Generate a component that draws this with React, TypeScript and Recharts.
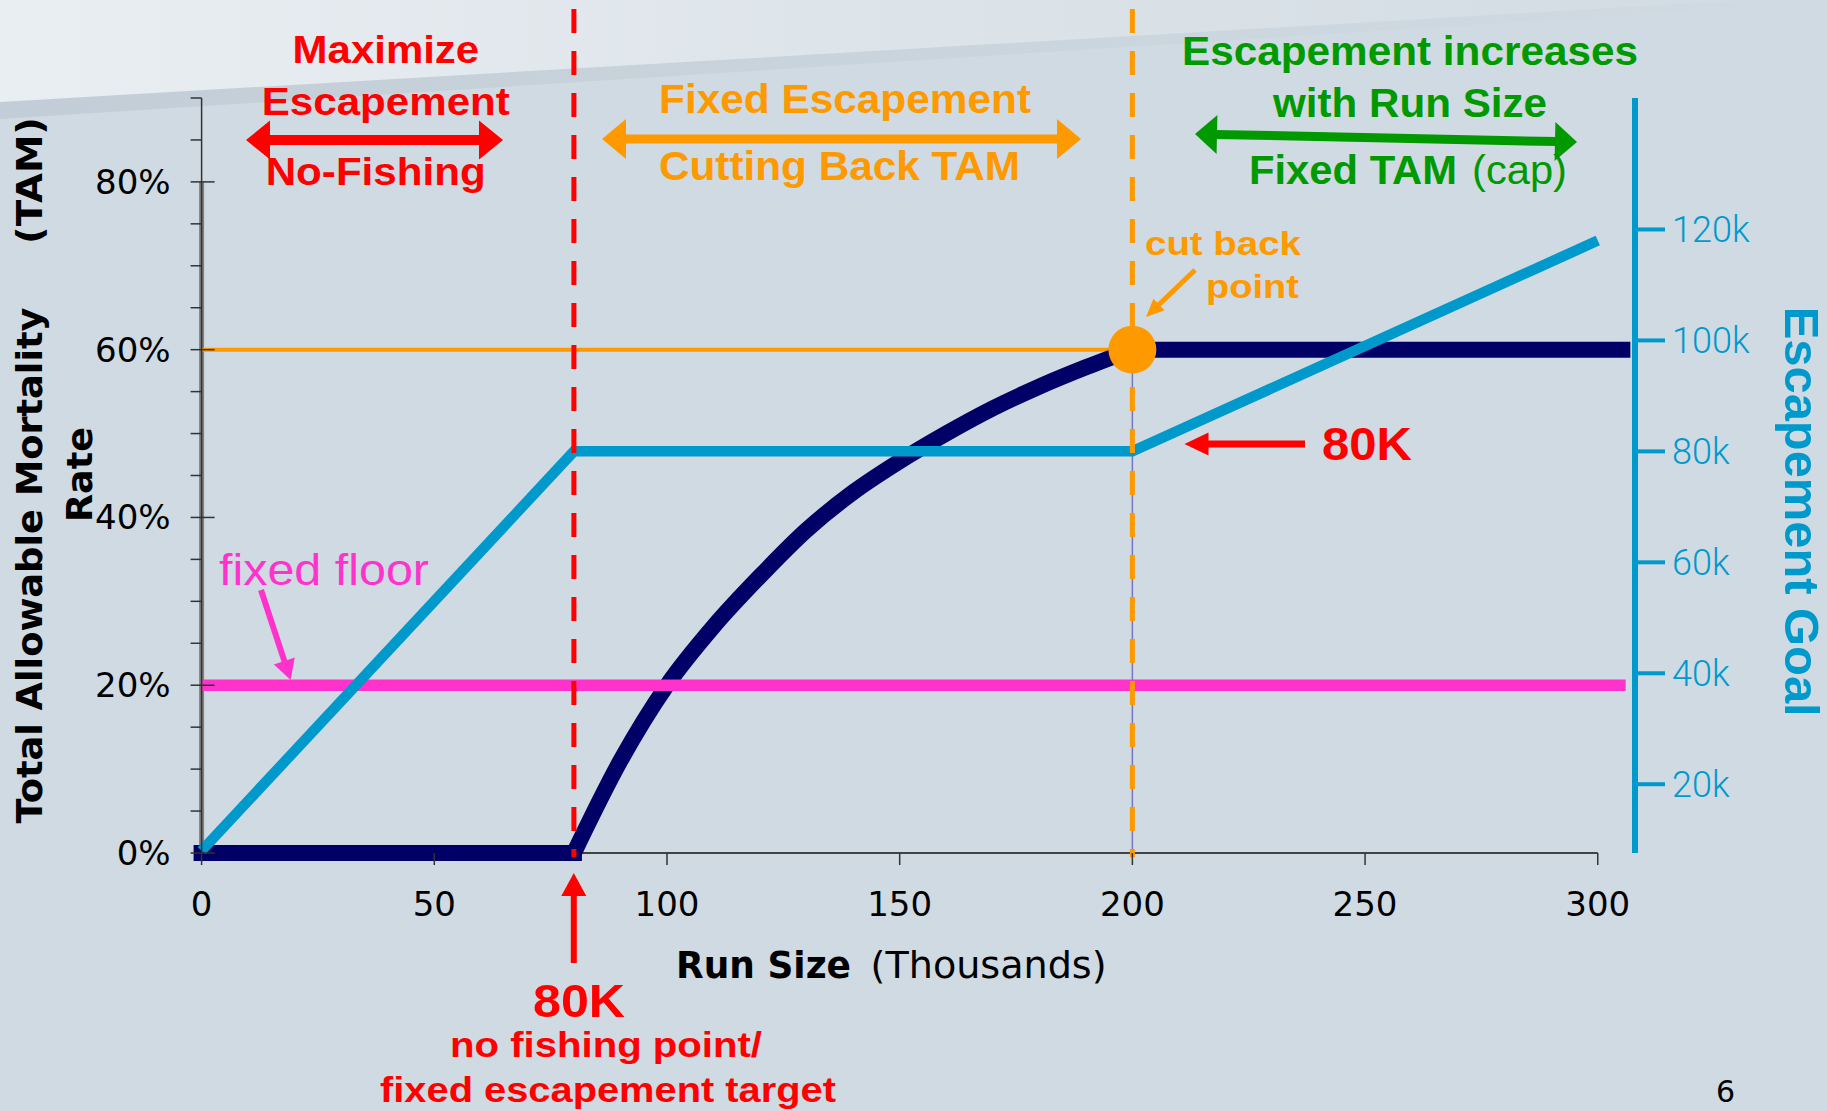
import React from "react";
import { ComposedChart, Line, XAxis, YAxis, ReferenceLine, ReferenceDot } from "recharts";

const W = 1827;
const H = 1111;

// axis ticks
const runTicks = [0, 50, 100, 150, 200, 250, 300];
const tamTicks = [0, 0.05, 0.1, 0.15, 0.2, 0.25, 0.3, 0.35, 0.4, 0.45, 0.5, 0.55, 0.6, 0.65, 0.7, 0.75, 0.8, 0.85, 0.9];
const escTicks = [20, 40, 60, 80, 100, 120];

// total allowable mortality rate (navy): flat no-fishing part, the cut-back curve, the cap
const tamFlatRun = [0, 80];
const tamFlatRate = [0, 0];
const tamCurveRun = [80, 90, 100, 110, 120, 130, 140, 150, 160, 170, 180, 190, 200];
const tamCurveRate = [0, 0.11, 0.2, 0.27, 0.33, 0.385, 0.43, 0.467, 0.5, 0.53, 0.556, 0.579, 0.6];
const tamCapRun = [200, 307];
const tamCapRate = [0.6, 0.6];

// escapement goal, thousands (right axis)
const escRun = [0, 80, 200, 300];
const escGoal = [8, 80, 80, 118];

// fixed floor
const floorRun = [0, 306];
const floorRate = [0.2, 0.2];

const noFishingRun = 80;
const cutBackRun = 200;
const capRate = 0.6;

const tamFlatData = tamFlatRun.map((run, i) => ({ run, tam: tamFlatRate[i] }));
const tamCurveData = tamCurveRun.map((run, i) => ({ run, tam: tamCurveRate[i] }));
const tamCapData = tamCapRun.map((run, i) => ({ run, tam: tamCapRate[i] }));
const escData = escRun.map((run, i) => ({ run, esc: escGoal[i] }));
const floorData = floorRun.map((run, i) => ({ run, floor: floorRate[i] }));

const NARROW = "'Liberation Sans Narrow', 'Arial Narrow', 'Liberation Sans', Arial, sans-serif";
const SANS = "'DejaVu Sans', Verdana, sans-serif";
const RED = "#ff0000";
const ORANGE = "#ff9900";
const GREEN = "#009900";
const BLUE = "#0099cc";
const PINK = "#ff33cc";
const NAVY = "#000066";

function TamTick(props: any) {
  const { x, y, payload } = props;
  const pct = Math.round(payload.value * 100);
  const major = pct % 20 === 0;
  return (
    <g>
      <line x1={x - 11} x2={major ? x + 13 : x} y1={y} y2={y} stroke="#333" strokeWidth={1.5} />
      {major && (
        <text x={x - 31} y={y} dy={12} textAnchor="end" fontSize={34} fontFamily={SANS} fill="#000">
          {pct}%
        </text>
      )}
    </g>
  );
}

function head(tx: number, ty: number, ux: number, uy: number, len: number, half: number) {
  const bx = tx - ux * len;
  const by = ty - uy * len;
  const px = -uy;
  const py = ux;
  return `${tx},${ty} ${bx + px * half},${by + py * half} ${bx - px * half},${by - py * half}`;
}

function Arrow({ x1, y1, x2, y2, color, shaft, len, half, both = false }: any) {
  const d = Math.hypot(x2 - x1, y2 - y1);
  const ux = (x2 - x1) / d;
  const uy = (y2 - y1) / d;
  const sx = both ? x1 + ux * len * 0.9 : x1;
  const sy = both ? y1 + uy * len * 0.9 : y1;
  return (
    <g>
      <line x1={sx} y1={sy} x2={x2 - ux * len * 0.9} y2={y2 - uy * len * 0.9} stroke={color} strokeWidth={shaft} />
      <polygon points={head(x2, y2, ux, uy, len, half)} fill={color} />
      {both && <polygon points={head(x1, y1, -ux, -uy, len, half)} fill={color} />}
    </g>
  );
}

function Txt({ x, y, w, size, fill, bold = true, family = NARROW, children }: any) {
  return (
    <text
      x={x}
      y={y}
      textLength={w}
      lengthAdjust="spacingAndGlyphs"
      fontSize={size}
      fill={fill}
      fontWeight={bold ? 700 : 400}
      fontFamily={family}
    >
      {children}
    </text>
  );
}

export default function App() {
  return (
    <div style={{ position: "fixed", left: 0, top: 0, width: W, height: H, background: "#cfdae2", overflow: "hidden" }}>
      {/* slide background */}
      <svg width={W} height={H} style={{ position: "absolute", left: 0, top: 0 }}>
        <defs>
          <linearGradient id="topG" x1="0" x2="1" y1="0" y2="0">
            <stop offset="0" stopColor="#e9eef2" />
            <stop offset="0.45" stopColor="#dee5ea" />
            <stop offset="1" stopColor="#d1dbe2" />
          </linearGradient>
          <linearGradient id="bandG" x1="0" x2="1" y1="0" y2="0">
            <stop offset="0" stopColor="#c3cdd7" />
            <stop offset="0.5" stopColor="#cad4dc" />
            <stop offset="1" stopColor="#cfdae2" />
          </linearGradient>
        </defs>
        <polygon points="0,0 1800,0 0,103" fill="url(#topG)" />
        <polygon points="0,102 1800,-3 1800,4 0,119" fill="url(#bandG)" />
      </svg>

      <div style={{ position: "absolute", left: 0, top: 0 }}>
        <ComposedChart width={W} height={H} margin={{ top: 98, right: 92, bottom: 198, left: 101.6 }}>
          <XAxis
            type="number"
            dataKey="run"
            domain={[0, 308]}
            ticks={runTicks}
            interval={0}
            height={60}
            axisLine={false}
            tickSize={12}
            tickMargin={27}
            tickLine={{ stroke: "#333", strokeWidth: 1.5 }}
            tick={{ fontSize: 34, fill: "#000", fontFamily: SANS }}
          />
          <YAxis
            yAxisId="tam"
            orientation="left"
            domain={[0, 0.9]}
            ticks={tamTicks}
            interval={0}
            width={100}
            tickSize={0}
            tickMargin={0}
            axisLine={{ stroke: "#333", strokeWidth: 1.5 }}
            tickLine={false}
            tick={(p: any) => <TamTick {...p} />}
          />
          <YAxis
            yAxisId="esc"
            orientation="right"
            domain={[7.6, 143.7]}
            ticks={escTicks}
            interval={0}
            width={100}
            tickSize={30}
            tickMargin={7}
            axisLine={{ stroke: BLUE, strokeWidth: 6 }}
            tickLine={{ stroke: BLUE, strokeWidth: 4 }}
            tickFormatter={(v: number) => `${v}k`}
            tick={{ fontSize: 36, fill: BLUE, fontFamily: "Roboto", fontWeight: 300 }}
          />

          <ReferenceLine
            yAxisId="tam"
            segment={[{ x: 0, y: 0 }, { x: 0, y: 0.8 }]}
            stroke="#808080"
            strokeWidth={5}
            ifOverflow="visible"
          />
          <ReferenceLine
            yAxisId="tam"
            segment={[{ x: 0, y: 0 }, { x: 300, y: 0 }]}
            stroke="#111"
            strokeWidth={1.5}
            ifOverflow="visible"
          />
          <ReferenceLine
            yAxisId="tam"
            segment={[{ x: 0, y: capRate }, { x: cutBackRun, y: capRate }]}
            stroke={ORANGE}
            strokeWidth={4}
            ifOverflow="visible"
          />
          <ReferenceLine
            yAxisId="tam"
            segment={[{ x: cutBackRun, y: 0 }, { x: cutBackRun, y: capRate }]}
            stroke="#7777bb"
            strokeWidth={1.5}
            ifOverflow="visible"
          />

          <Line
            data={tamFlatData}
            dataKey="tam"
            yAxisId="tam"
            type="linear"
            stroke={NAVY}
            strokeWidth={16}
            strokeLinecap="square"
            dot={false}
            activeDot={false}
            isAnimationActive={false}
          />
          <Line
            data={tamCurveData}
            dataKey="tam"
            yAxisId="tam"
            type="monotone"
            stroke={NAVY}
            strokeWidth={16}
            dot={false}
            activeDot={false}
            isAnimationActive={false}
          />
          <Line
            data={tamCapData}
            dataKey="tam"
            yAxisId="tam"
            type="linear"
            stroke={NAVY}
            strokeWidth={16}
            dot={false}
            activeDot={false}
            isAnimationActive={false}
          />
          <Line
            data={floorData}
            dataKey="floor"
            yAxisId="tam"
            type="linear"
            stroke={PINK}
            strokeWidth={11.5}
            dot={false}
            activeDot={false}
            isAnimationActive={false}
          />
          <Line
            data={escData}
            dataKey="esc"
            yAxisId="esc"
            type="linear"
            stroke={BLUE}
            strokeWidth={10.5}
            dot={false}
            activeDot={false}
            isAnimationActive={false}
          />

          <ReferenceLine
            yAxisId="tam"
            segment={[{ x: noFishingRun, y: 1.006 }, { x: noFishingRun, y: -0.005 }]}
            stroke={RED}
            strokeWidth={5}
            strokeDasharray="24 18"
            ifOverflow="visible"
          />
          <ReferenceLine
            yAxisId="tam"
            segment={[{ x: cutBackRun, y: 1.006 }, { x: cutBackRun, y: -0.005 }]}
            stroke={ORANGE}
            strokeWidth={5}
            strokeDasharray="24 18"
            ifOverflow="visible"
          />
          <ReferenceDot
            yAxisId="tam"
            x={cutBackRun}
            y={capRate}
            r={24}
            fill={ORANGE}
            stroke="none"
            ifOverflow="visible"
          />
        </ComposedChart>
      </div>

      {/* annotations */}
      <svg width={W} height={H} style={{ position: "absolute", left: 0, top: 0, pointerEvents: "none" }}>
        <Txt x={292.6} y={63} w={186.6} size={39} fill={RED}>Maximize</Txt>
        <Txt x={261.8} y={115} w={248} size={39} fill={RED}>Escapement</Txt>
        <Txt x={265.7} y={185} w={220} size={39} fill={RED}>No-Fishing</Txt>
        <Arrow x1={246} y1={140} x2={503} y2={140} color={RED} shaft={10} len={24} half={19.5} both />

        <Txt x={659} y={113} w={372} size={41} fill={ORANGE}>Fixed Escapement</Txt>
        <Txt x={659} y={180} w={361} size={41} fill={ORANGE}>Cutting Back TAM</Txt>
        <Arrow x1={602} y1={139} x2={1081} y2={139} color={ORANGE} shaft={9} len={24} half={20} both />

        <Txt x={1182} y={65} w={456} size={41} fill={GREEN}>Escapement increases</Txt>
        <Txt x={1273} y={117} w={274} size={41} fill={GREEN}>with Run Size</Txt>
        <Txt x={1249} y={184} w={208} size={41} fill={GREEN}>Fixed TAM</Txt>
        <Txt x={1472} y={184} w={95} size={41} fill={GREEN} bold={false}>(cap)</Txt>
        <Arrow x1={1195} y1={134} x2={1577} y2={142} color={GREEN} shaft={9} len={22} half={19.5} both />

        <Txt x={1145} y={255} w={156} size={34} fill={ORANGE}>cut back</Txt>
        <Txt x={1206} y={298} w={93} size={34} fill={ORANGE}>point</Txt>
        <Arrow x1={1195} y1={270} x2={1146} y2={317} color={ORANGE} shaft={5} len={18} half={8} />

        <Txt x={1322} y={460} w={90} size={46} fill={RED}>80K</Txt>
        <Arrow x1={1305} y1={444} x2={1184.5} y2={444} color={RED} shaft={7} len={24} half={11.5} />

        <Txt x={219} y={585} w={210} size={45} fill={PINK} bold={false}>fixed floor</Txt>
        <Arrow x1={261} y1={590} x2={290.6} y2={680} color={PINK} shaft={6} len={20} half={11} />

        <Arrow x1={573.8} y1={963} x2={573.8} y2={873} color={RED} shaft={6} len={23} half={12.5} />
        <Txt x={533} y={1017} w={92} size={47} fill={RED}>80K</Txt>
        <Txt x={450} y={1057} w={312} size={35} fill={RED}>no fishing point/</Txt>
        <Txt x={380} y={1102} w={456} size={35} fill={RED}>fixed escapement target</Txt>

        <Txt x={676} y={978} w={175} size={38} fill="#000" family={SANS}>Run Size</Txt>
        <Txt x={870.6} y={978} w={236} size={38} fill="#000" bold={false} family={SANS}>(Thousands)</Txt>

        <g transform="translate(42, 823.5) rotate(-90)">
          <text x={0} y={0} textLength={516} lengthAdjust="spacingAndGlyphs" fontSize={36} fontWeight={700} fontFamily={SANS} fill="#000">
            Total Allowable Mortality
          </text>
        </g>
        <g transform="translate(42, 244) rotate(-90)">
          <text x={0} y={0} textLength={127} lengthAdjust="spacingAndGlyphs" fontSize={36} fontWeight={700} fontFamily={SANS} fill="#000">
            (TAM)
          </text>
        </g>
        <g transform="translate(92, 522) rotate(-90)">
          <text x={0} y={0} textLength={95} lengthAdjust="spacingAndGlyphs" fontSize={36} fontWeight={700} fontFamily={SANS} fill="#000">
            Rate
          </text>
        </g>
        <g transform="translate(1784.7, 306.7) rotate(90)">
          <text x={0} y={0} textLength={410} lengthAdjust="spacingAndGlyphs" fontSize={48} fontWeight={700} fontFamily="'Liberation Sans', Arial, sans-serif" fill={BLUE}>
            Escapement Goal
          </text>
        </g>

        <text x={1716} y={1102} fontSize={30} fontFamily={SANS} fill="#000">6</text>
      </svg>
    </div>
  );
}
